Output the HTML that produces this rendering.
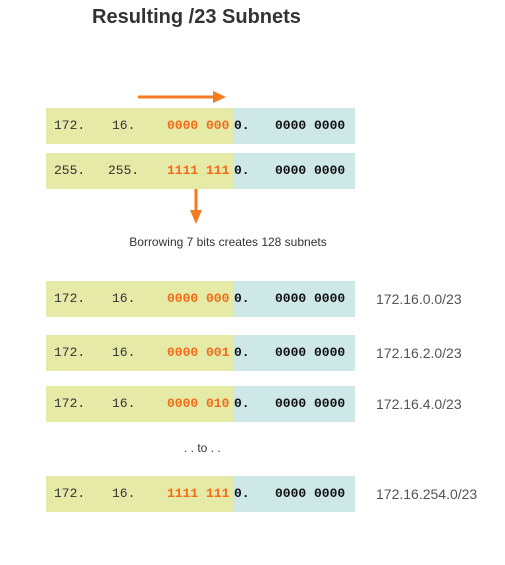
<!DOCTYPE html>
<html><head><meta charset="utf-8">
<style>
body{margin:0;width:505px;height:565px;background:#fff;position:relative;overflow:hidden;font-family:"Liberation Sans",sans-serif}
.abs{position:absolute}
.row{position:absolute;left:46px;width:309px;height:36px}
.g{position:absolute;left:0;top:0;width:187px;height:36px;background:#e6eaa7}
.b{position:absolute;left:187px;top:0;width:122px;height:36px;background:#cde8e7}
.t{position:absolute;top:0;line-height:36px;font-family:"Liberation Mono",monospace;font-size:13px;white-space:pre}
.o{color:#f26c1a;font-weight:bold}
.k{color:#111;font-weight:bold}
.n{color:#333}
.lbl{position:absolute;left:376px;font-size:14px;color:#555}
</style></head><body>
<div class="abs" style="left:92px;top:6px;font-size:20px;font-weight:bold;color:#333">Resulting /23 Subnets</div>
<svg class="abs" style="left:0;top:0" width="505" height="565">
<g><line x1="138" y1="97" x2="215" y2="97" stroke="#f47b20" stroke-width="3"/><polygon points="213,91 226,97 213,103" fill="#f47b20"/></g>
<g><line x1="196" y1="188" x2="196" y2="212" stroke="#f47b20" stroke-width="3"/><polygon points="190,210 196,224 202,210" fill="#f47b20"/></g>
</svg>
<div class="abs" style="left:0;width:456px;text-align:center;top:235px;font-size:12px;color:#333">Borrowing 7 bits creates 128 subnets</div>
<div class="abs" style="left:184px;top:441px;font-size:12px;color:#333">. . to . .</div>
<div id="rows"></div>
<script>
const rowTops=[108,153,281,335,386,476];
const oct1=["172.","255.","172.","172.","172.","172."];
const oct2=["16.","255.","16.","16.","16.","16."];
const bits=["0000 000","1111 111","0000 000","0000 001","0000 010","1111 111"];
const labels=["","","172.16.0.0/23","172.16.2.0/23","172.16.4.0/23","172.16.254.0/23"];
const c=document.getElementById('rows');
rowTops.forEach((y,i)=>{
  const r=document.createElement('div');r.className='row';r.style.top=y+'px';
  
  
  r.innerHTML='<div class="g"></div><div class="b"></div>'+
   '<span class="t n" style="left:8px">'+oct1[i]+'</span>'+
   '<span class="t n" style="left:'+(oct1[i]==="255."?62:66)+'px">'+oct2[i]+'</span>'+
   '<span class="t o" style="left:121px">'+bits[i]+'</span>'+
   '<span class="t k" style="left:188px">0.</span>'+
   '<span class="t k" style="left:229px">0000 0000</span>';
  c.appendChild(r);
  if(labels[i]){
    const l=document.createElement('div');l.className='lbl';l.textContent=labels[i];
    l.style.top=(y+10)+'px';
    
    
    c.appendChild(l);
  }
});
</script>
</body></html>
